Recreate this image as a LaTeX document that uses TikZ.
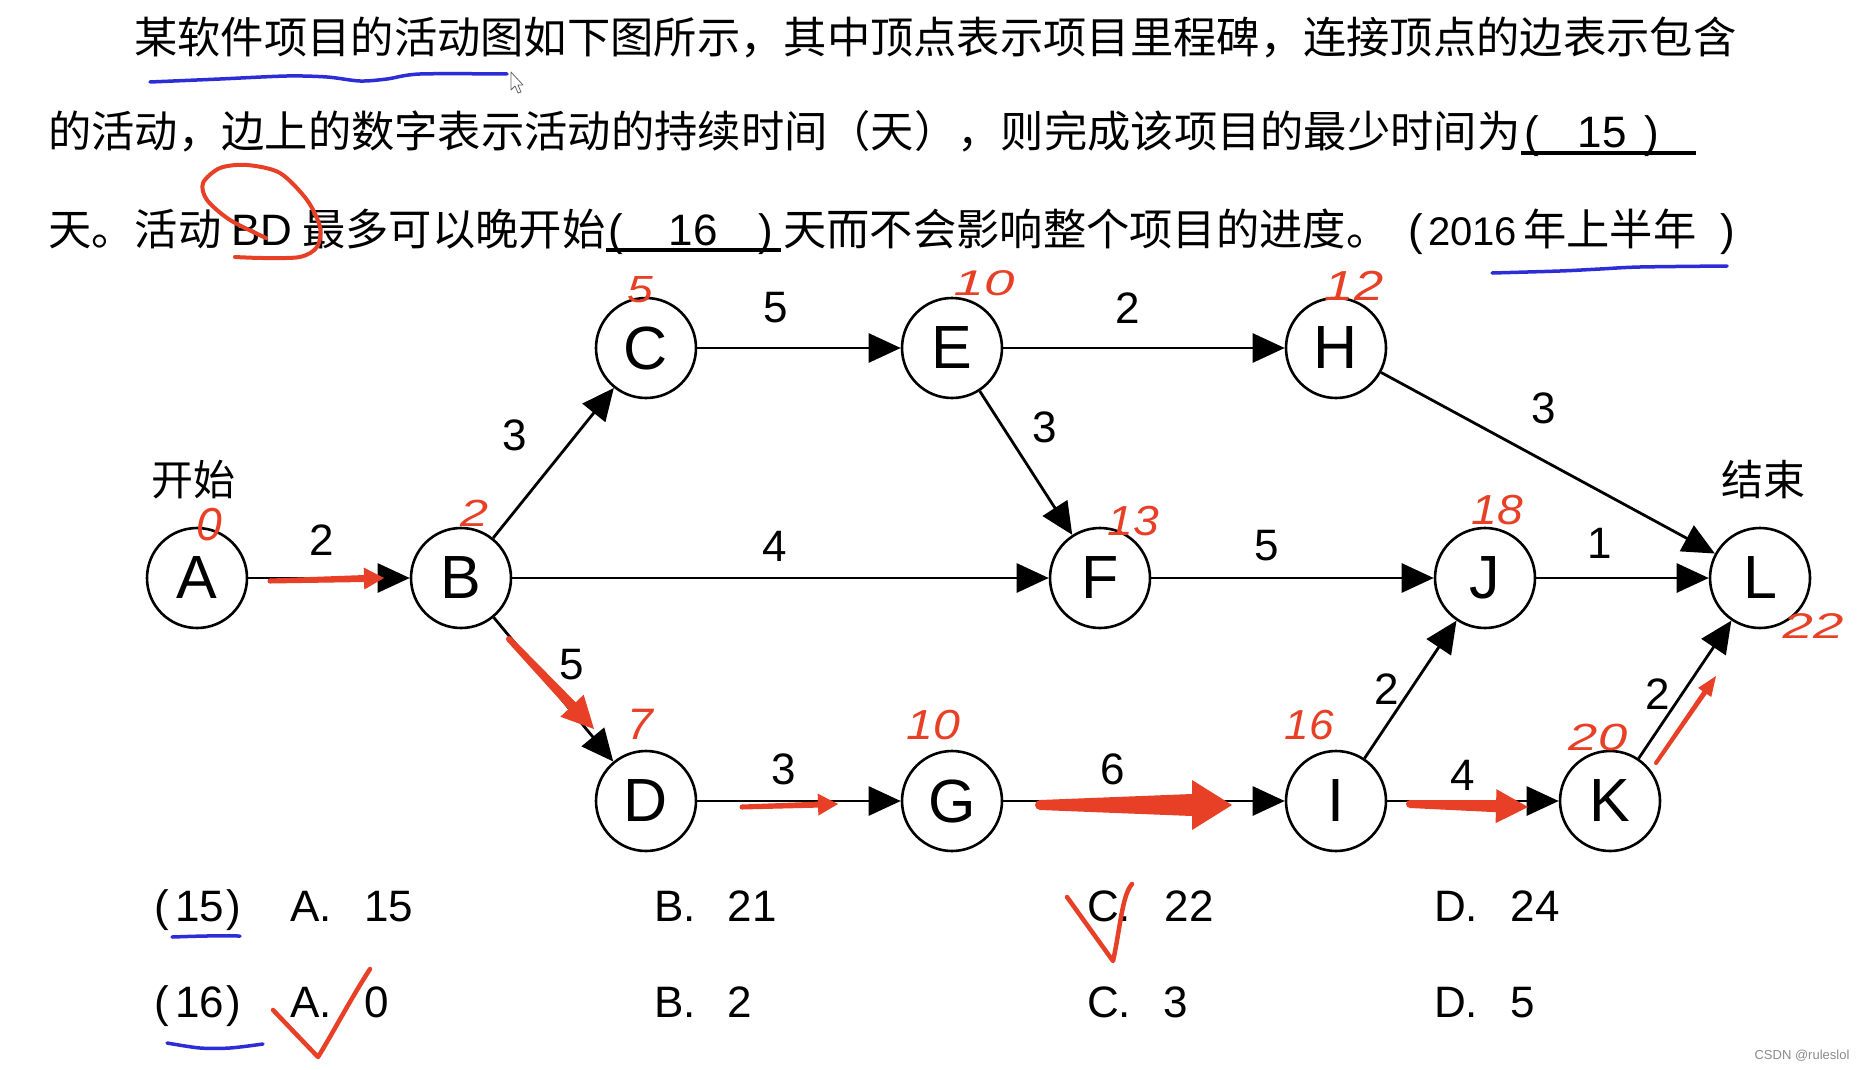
\documentclass[tikz,border=0pt]{standalone}
\usepackage{fontspec}
\usepackage{graphicx}
\setmainfont{Liberation Sans}
\newfontfamily\cjk{Noto Sans CJK SC}
\usetikzlibrary{arrows.meta,calc}
\definecolor{redann}{RGB}{232,64,38}
\definecolor{blueann}{RGB}{45,45,215}
\newcommand\redarrow[6]{%
  \coordinate (hb) at ($(#2)!#5!(#1)$);
  \fill[redann,line join=round]
    ($(#1)!#3!90:(#2)$) -- ($(hb)!#4!-90:(#1)$) -- ($(hb)!#6!-90:(#1)$) -- (#2)
    -- ($(hb)!#6!90:(#1)$) -- ($(hb)!#4!90:(#1)$) -- ($(#1)!#3!-90:(#2)$) -- cycle;
  \fill[redann] (#1) circle (#3);
}
\begin{document}
\begin{tikzpicture}[x=1pt,y=-1pt,
  vtx/.style={circle,draw=black,line width=2.6pt,minimum size=100pt,inner sep=0pt,font=\fontsize{61}{61}\selectfont},
  edge/.style={line width=2.8pt,-{Triangle[length=32pt,width=29pt]}},
  elabel/.style={font=\fontsize{44}{44}\selectfont,inner sep=0pt},
  qtext/.style={font=\cjk\fontsize{43.3}{43.3}\selectfont,inner sep=0pt,anchor=base west},
  lat/.style={font=\fontsize{44}{44}\selectfont,inner sep=0pt,anchor=base west},
  latc/.style={font=\fontsize{44}{44}\selectfont,inner sep=0pt,anchor=base},
  cjkl/.style={font=\cjk\fontsize{42}{42}\selectfont,inner sep=0pt},
  hand/.style={font=\fontsize{42}{42}\itshape,text=redann,inner sep=0pt},
  uline/.style={line width=3.5pt,black},
  blueline/.style={blueann,line width=3.5pt,line cap=round,line join=round},
  redline/.style={redann,line width=4.5pt,line cap=round,line join=round}
]
\fill[white] (0,0) rectangle (1870,1070);
\useasboundingbox (0,0) rectangle (1870,1070);

% ---------- question text ----------
\node[qtext] (t1) at (134,54) {某软件项目的活动图如下图所示，其中顶点表示项目里程碑，连接顶点的边表示包含};
\node[qtext] (t2) at (48,147) {的活动，边上的数字表示活动的持续时间（天），则完成该项目的最少时间为};
\node[latc] (t2p1) at (1532,147) {(};
\node[latc] (t2n) at (1602,147) {15};
\node[latc] (t2p2) at (1652,147) {)};
\draw[uline] (1521,153) -- (1696,153);

\node[qtext] (t3a) at (48,245) {天。活动};
\node[lat] (t3b) at (231,245) {BD};
\node[qtext] (t3c) at (302,245) {最多可以晚开始};
\node[latc] (t3p1) at (616,245) {(};
\node[latc] (t3n) at (693,245) {16};
\node[latc] (t3p2) at (766,245) {)};
\draw[uline] (606,250) -- (781,250);
\node[qtext] (t3e) at (783,245) {天而不会影响整个项目的进度。};
\node[latc] (t3q1) at (1416,245) {(};
\node[lat,font=\fontsize{40}{40}\selectfont] (t3y) at (1428,245) {2016};
\node[qtext] (t3h) at (1523,245) {年上半年};
\node[latc] (t3q2) at (1728,245) {)};

% ---------- graph ----------
\node[vtx] (A) at (197,578) {A};
\node[vtx] (B) at (461,578) {B};
\node[vtx] (C) at (646,348) {C};
\node[vtx] (E) at (952,348) {E};
\node[vtx] (H) at (1336,348) {H};
\node[vtx] (F) at (1100,578) {F};
\node[vtx] (J) at (1485,578) {J};
\node[vtx] (L) at (1760,578) {L};
\node[vtx] (D) at (646,801) {D};
\node[vtx] (G) at (952,801) {G};
\node[vtx] (I) at (1336,801) {I};
\node[vtx] (K) at (1610,801) {K};

\node[cjkl] (start) at (193,480) {开始};
\node[cjkl] (end) at (1763,480) {结束};

\draw[edge] (A) -- (B);
\draw[edge] (B) -- (C);
\draw[edge] (B) -- (F);
\draw[edge] (B) -- (D);
\draw[edge] (C) -- (E);
\draw[edge] (E) -- (H);
\draw[edge] (E) -- (F);
\draw[edge] (H) -- (L);
\draw[edge] (F) -- (J);
\draw[edge] (J) -- (L);
\draw[edge] (D) -- (G);
\draw[edge] (G) -- (I);
\draw[edge] (I) -- (J);
\draw[edge] (I) -- (K);
\draw[edge] (K) -- (L);

\node[elabel] (lAB) at (322,540) {2};
\node[elabel] (lBC) at (515,435) {3};
\node[elabel] (lCE) at (776,308) {5};
\node[elabel] (lEH) at (1128,308) {2};
\node[elabel] (lEF) at (1045,427) {3};
\node[elabel] (lHL) at (1544,408) {3};
\node[elabel] (lBF) at (775,546) {4};
\node[elabel] (lFJ) at (1267,546) {5};
\node[elabel] (lJL) at (1600,543) {1};
\node[elabel] (lBD) at (572,665) {5};
\node[elabel] (lDG) at (784,769) {3};
\node[elabel] (lGI) at (1113,769) {6};
\node[elabel] (lIJ) at (1387,689) {2};
\node[elabel] (lIK) at (1463,775) {4};
\node[elabel] (lKL) at (1658,694) {2};

% ---------- options ----------
\node[latc] (o1p1) at (162,921) {(};
\node[latc] (o1n) at (200,921) {15};
\node[latc] (o1p2) at (234,921) {)};
\node[lat] (o1a) at (290,921) {A.};
\node[latc] (o1av) at (389,921) {15};
\node[lat] (o1b) at (654,921) {B.};
\node[latc] (o1bv) at (752,921) {21};
\node[lat] (o1c) at (1087,921) {C.};
\node[latc] (o1cv) at (1189,921) {22};
\node[lat] (o1d) at (1434,921) {D.};
\node[latc] (o1dv) at (1535,921) {24};

\node[latc] (o2p1) at (162,1017) {(};
\node[latc] (o2n) at (200,1017) {16};
\node[latc] (o2p2) at (234,1017) {)};
\node[lat] (o2a) at (290,1017) {A.};
\node[latc] (o2av) at (377,1017) {0};
\node[lat] (o2b) at (654,1017) {B.};
\node[latc] (o2bv) at (740,1017) {2};
\node[lat] (o2c) at (1087,1017) {C.};
\node[latc] (o2cv) at (1176,1017) {3};
\node[lat] (o2d) at (1434,1017) {D.};
\node[latc] (o2dv) at (1523,1017) {5};

\node[font=\fontsize{13}{13}\selectfont,text=black!45,inner sep=0pt] (wm) at (1802,1056) {CSDN @ruleslol};

% ---------- annotations ----------
\node[hand] (hA) at (209,525) {\scalebox{1.1}[1.1]{0}};
\node[hand] (hB) at (475,513) {\scalebox{1.2}[0.9]{2}};
\node[hand] (hC) at (640,290) {\scalebox{1.1}[0.9]{5}};
\node[hand] (hE) at (984,283) {\scalebox{1.3}[0.85]{10}};
\node[hand] (hH) at (1354,286) {\scalebox{1.25}[1]{12}};
\node[hand] (hF) at (1133,521) {\scalebox{1.1}[1]{13}};
\node[hand] (hJ) at (1497,510) {\scalebox{1.1}[1]{18}};
\node[hand] (hL) at (1813,626) {\scalebox{1.3}[0.85]{22}};
\node[hand] (hD) at (640,724) {\scalebox{1.1}[1.05]{7}};
\node[hand] (hG) at (933,725) {\scalebox{1.15}[1]{10}};
\node[hand] (hI) at (1309,725) {\scalebox{1.05}[1]{16}};
\node[hand] (hK) at (1598,737) {\scalebox{1.25}[0.9]{20}};

\coordinate (r1s) at (270,581); \coordinate (r1e) at (384,578);
\coordinate (r2s) at (509,639); \coordinate (r2e) at (594,729);
\coordinate (r3s) at (742,807); \coordinate (r3e) at (838,804);
\coordinate (r4s) at (1040,805); \coordinate (r4e) at (1232,805);
\coordinate (r5s) at (1410,804); \coordinate (r5e) at (1528,807);
\coordinate (r6s) at (1656,763); \coordinate (r6e) at (1716,676);
\redarrow{r1s}{r1e}{2.5pt}{3.5pt}{20pt}{11pt}
\redarrow{r2s}{r2e}{3pt}{5pt}{32pt}{16pt}
\redarrow{r3s}{r3e}{2.5pt}{3pt}{20pt}{11pt}
\redarrow{r4s}{r4e}{5pt}{11pt}{40pt}{25pt}
\redarrow{r5s}{r5e}{4pt}{6pt}{32pt}{17pt}
\redarrow{r6s}{r6e}{2pt}{2.5pt}{20pt}{8pt}

% loop round BD
\draw[redline,line width=4pt] plot[smooth] coordinates {(266,238) (230,220) (207,200) (203,183) (220,168) (247,165) (280,173) (307,200) (320,227) (317,247) (300,257) (263,258) (235,257)};

% check marks
\draw[redline] (1067,897) -- (1113,961) .. controls (1120,930) and (1122,895) .. (1132,884);
\draw[redline] (273,1010) -- (318,1057) .. controls (330,1038) and (350,1000) .. (370,969);

% blue underlines
\draw[blueline] plot[smooth] coordinates {(150,82) (220,79) (287,76) (327,77) (360,81) (387,79) (420,74) (507,74)};
\draw[blueline] plot[smooth] coordinates {(1492,273) (1560,271) (1600,269) (1640,267) (1727,266)};
\draw[blueline] plot[smooth] coordinates {(172,937) (206,936) (240,936)};
\draw[blueline] plot[smooth] coordinates {(167,1043) (200,1048) (230,1048) (263,1044)};

% mouse cursor
\draw[black!60,fill=white,line width=0.8pt,line join=round] (511,72) -- (511,90) -- (515,86) -- (518,93) -- (521,92) -- (518,85) -- (523,85) -- cycle;
\end{tikzpicture}
\end{document}
